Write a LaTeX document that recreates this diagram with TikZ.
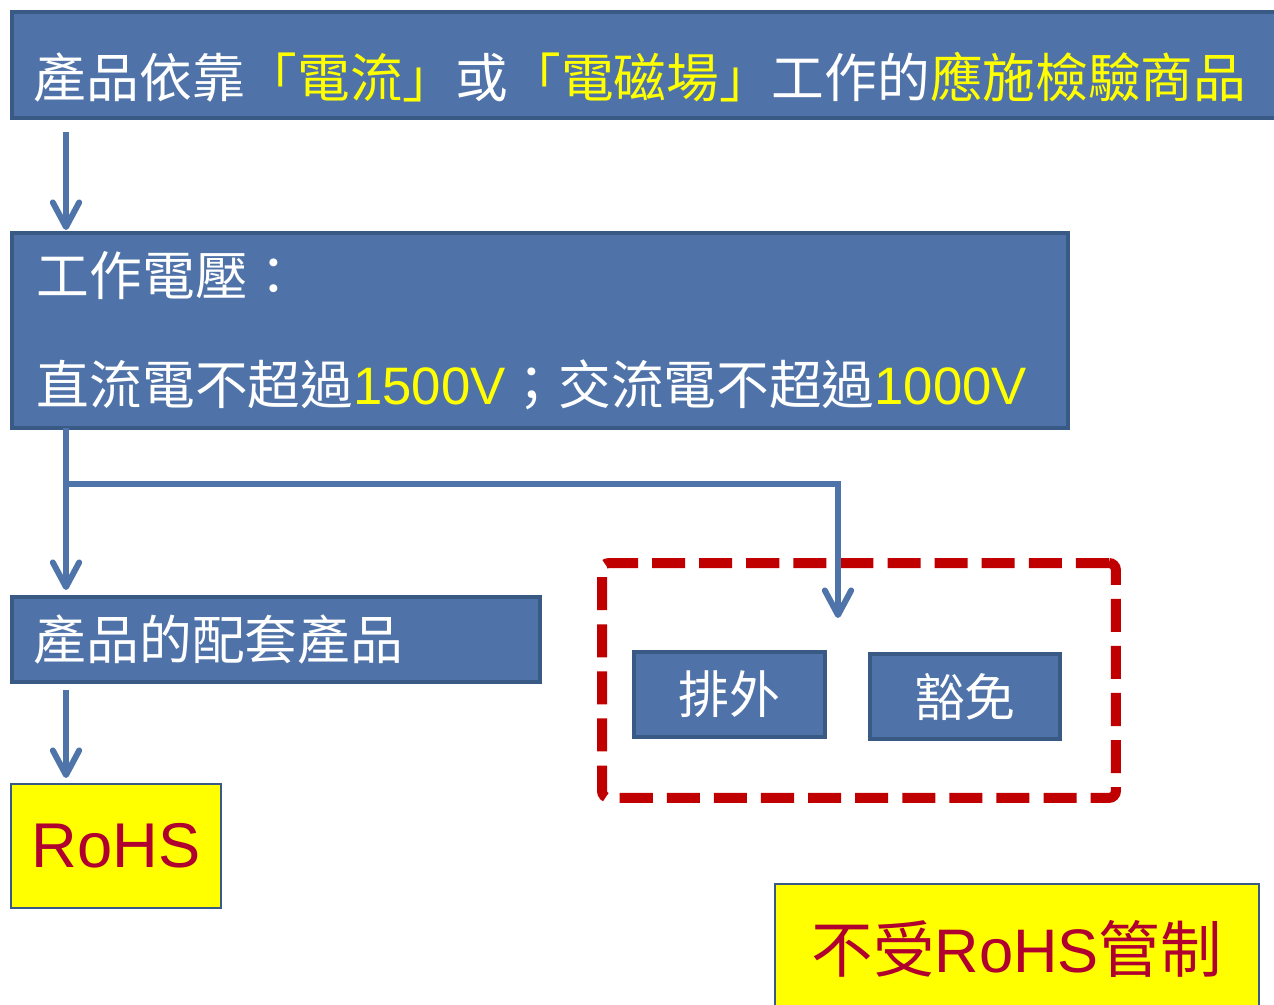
\documentclass[tikz,border=0pt]{standalone}
\usepackage{fontspec}
\usepackage{xcolor}
\setmainfont{Noto Sans CJK TC}
\newfontfamily\arial{Liberation Sans}
\usetikzlibrary{arrows.meta}

\definecolor{boxblue}{HTML}{4F73A8}
\definecolor{boxline}{HTML}{3A5A86}
\definecolor{arrowblue}{HTML}{4F74AA}
\definecolor{hlyellow}{HTML}{FFFF00}
\definecolor{rohsred}{HTML}{B0002F}
\definecolor{dashred}{HTML}{C00000}
\newcommand{\hl}[1]{\textcolor{hlyellow}{#1}}

\begin{document}
\begin{tikzpicture}[x=0.02cm, y=-0.02cm,
    bluebox/.style={rectangle, draw=boxline, line width=2.3pt, fill=boxblue, text=white, outer sep=0pt, anchor=north west},
    yellowbox/.style={rectangle, draw=boxline, line width=0.9pt, fill=hlyellow, text=rohsred, outer sep=0pt, anchor=north west},
    groupbox/.style={rectangle, draw=dashred, line width=5.7pt, dash pattern=on 18.8pt off 8pt, rounded corners=4pt, inner sep=0pt, outer sep=0pt, anchor=north west},
    flowarrow/.style={draw=arrowblue, line width=3.4pt, -{Straight Barb[length=14pt,width=15pt,round]}},
]

\useasboundingbox (0,0) rectangle (1274,1004);
\clip (0,0) rectangle (1274,1004);

% boxes
\node[bluebox, inner xsep=0.44cm, inner ysep=0pt, text width=24.68cm, text height=1.72cm, text depth=0.40cm, align=left, font=\fontsize{30}{36}\selectfont] (prod) at (12,12) {產品依靠\hl{「電流」}或\hl{「電磁場」}工作的\hl{應施檢驗商品}};
\node[bluebox, inner xsep=0.5cm, text width=20.12cm, minimum height=3.9cm, align=left, font=\fontsize{30}{62}\selectfont] (volt) at (12,233) {工作電壓：\\直流電不超過\hl{\arial 1500V}；交流電不超過\hl{\arial 1000V}};
\node[bluebox, inner xsep=0.44cm, text width=9.68cm, minimum height=1.7cm, align=left, font=\fontsize{30}{36}\selectfont] (acc) at (12,597) {產品的配套產品};
\node[yellowbox, minimum width=4.2cm, minimum height=2.48cm, font=\arial\fontsize{36}{43}\selectfont] (rohs) at (11,784) {RoHS};

\node[groupbox, minimum width=10.28cm, minimum height=4.7cm] (group) at (602,563) {};
\node[bluebox, minimum width=3.82cm, minimum height=1.7cm, font=\fontsize{29}{35}\selectfont] (excl) at (634,652) {排外};
\node[bluebox, minimum width=3.8cm, minimum height=1.7cm, font=\fontsize{29}{35}\selectfont] (exem) at (870,654) {豁免};
\node[yellowbox, minimum width=9.68cm, minimum height=2.6cm, font=\fontsize{35}{42}\selectfont] (free) at (775,884) {不受{\arial RoHS}管制};

% connectors
\coordinate (spine) at (66,0);
\coordinate (fork) at (66,484);
\coordinate (exemtip) at (838,618);
\draw[flowarrow, shorten <=0.28cm, shorten >=0.06cm] (prod.south -| spine) -- (volt.north -| spine);
\draw[flowarrow, shorten >=0.14cm] (volt.south -| spine) -- (acc.north -| spine);
\draw[flowarrow] (fork) -| (exemtip);
\draw[flowarrow, shorten <=0.16cm, shorten >=0.12cm] (acc.south -| spine) -- (rohs.north -| spine);

\end{tikzpicture}
\end{document}
